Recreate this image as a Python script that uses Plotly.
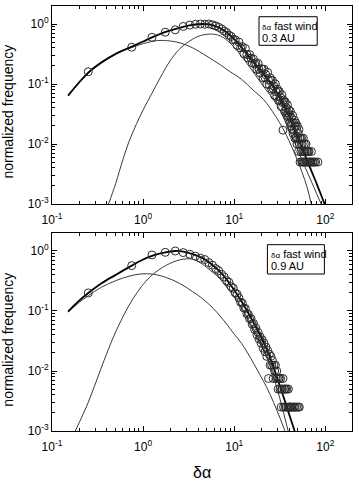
import plotly.graph_objects as go

# ---------------- data ----------------
# top panel: 0.3 AU
top_x = [0.25, 0.75, 1.25, 1.75, 2.25, 2.75, 3.25, 3.75, 4.25, 4.75,
         5.25, 5.75, 6.25, 6.75, 7.25, 7.75, 8.25, 8.75, 9.25, 9.75,
         10.25, 10.75, 11.25, 11.75, 12.25, 12.75, 13.25, 13.75, 14.25, 14.75,
         15.25, 15.75, 16.25, 16.75, 17.25, 17.75, 18.25, 18.75, 19.25, 19.75,
         20.25, 20.75, 21.25, 21.75, 22.25, 22.75, 23.25, 23.75, 24.25, 24.75,
         25.25, 25.75, 26.25, 26.75, 27.25, 27.75, 28.25, 28.75, 29.25, 29.75,
         30.25, 30.75, 31.25, 31.75, 32.25, 32.75, 33.25, 33.75, 34.25, 34.75,
         35.25, 35.75, 36.25, 36.75, 37.25, 37.75, 38.25, 38.75, 39.25, 39.75,
         40.25, 40.75, 41.25, 41.75, 42.25, 42.75, 43.25, 43.75, 44.25, 44.75,
         45.25, 45.75, 46.25, 46.75, 47.25, 47.75, 48.25, 48.75, 49.25, 49.75,
         50.25, 50.75, 51.25, 51.75, 52.25, 52.75, 53.25, 53.75, 54.25, 54.75,
         55.25, 55.75, 56.25, 56.75, 57.25, 57.75, 58.25, 58.75, 59.25, 59.75,
         60.25, 61.25, 61.75, 62.25, 63.25, 63.75, 64.75, 65.25, 66.25, 67.25,
         67.75, 69.25, 70.25, 71.75, 73.25, 75.75, 78.25, 82.75]
top_y = [0.16, 0.41, 0.60, 0.73, 0.80, 0.91, 0.96, 0.99, 1.00, 0.99,
         1.00, 0.97, 0.93, 0.88, 0.83, 0.76, 0.72, 0.65, 0.62, 0.55,
         0.545, 0.44, 0.50, 0.40, 0.42, 0.32, 0.39, 0.31, 0.27, 0.31,
         0.27, 0.225, 0.26, 0.215, 0.225, 0.175, 0.22, 0.175, 0.153, 0.18,
         0.178, 0.126, 0.176, 0.128, 0.143, 0.10, 0.156, 0.115, 0.097, 0.127,
         0.115, 0.082, 0.115, 0.084, 0.092, 0.064, 0.10, 0.074, 0.062, 0.082,
         0.075, 0.053, 0.075, 0.054, 0.06, 0.042, 0.066, 0.049, 0.017, 0.054,
         0.05, 0.035, 0.05, 0.036, 0.04, 0.03, 0.045, 0.033, 0.028, 0.037,
         0.03, 0.0225, 0.035, 0.02, 0.0275, 0.0225, 0.0175, 0.03, 0.015, 0.0225,
         0.0175, 0.025, 0.0125, 0.02, 0.0225, 0.0125, 0.0175, 0.01, 0.02, 0.0125,
         0.015, 0.0075, 0.0175, 0.01, 0.0125, 0.005, 0.0125, 0.0075, 0.01, 0.0125,
         0.005, 0.01, 0.0075, 0.005, 0.0125, 0.0075, 0.005, 0.01, 0.0075, 0.005,
         0.0075, 0.01, 0.005, 0.0075, 0.0075, 0.005, 0.0075, 0.005, 0.0075, 0.005,
         0.005, 0.005, 0.0075, 0.005, 0.005, 0.005, 0.005, 0.005]

top_fit_x = [0.15, 0.2, 0.25, 0.35, 0.5, 0.75, 1.0, 1.25, 1.6, 2.0, 2.5, 3.0, 3.5, 4.0,
             4.6, 5.2, 6.0, 7.0, 8.0, 9.0, 10, 12, 15, 18, 21, 25, 30, 35, 40, 45,
             50, 55, 60, 65, 70, 80, 90, 98]
top_fit_y = [0.064, 0.108, 0.155, 0.23, 0.32, 0.42, 0.51, 0.60, 0.70, 0.78, 0.86, 0.925,
             0.965, 0.99, 1.0, 0.99, 0.94, 0.85, 0.75, 0.65, 0.56, 0.41, 0.27, 0.195,
             0.145, 0.105, 0.068, 0.044, 0.029, 0.0186, 0.0126, 0.0088, 0.0064, 0.0047,
             0.0036, 0.0022, 0.0014, 0.001]
top_c1_x = [0.15, 0.25, 0.4, 0.6, 0.8, 1.0, 1.45, 2.0, 2.6, 3.5, 5.0, 7.0, 9.0, 12,
            16, 21, 28, 35, 45, 55, 63, 70]
top_c1_y = [0.063, 0.15, 0.255, 0.355, 0.42, 0.47, 0.53, 0.52, 0.48, 0.40, 0.29, 0.21,
            0.16, 0.12, 0.08, 0.055, 0.03, 0.017, 0.0075, 0.0035, 0.0019, 0.001]
top_c2_x = [0.417, 0.5, 0.6, 0.7, 0.85, 1.0, 1.25, 1.53, 2.0, 2.5, 3.0, 3.5, 4.0, 4.6,
            5.6, 6.5, 7.5, 8.5, 10, 12, 15, 20, 25, 30, 35, 40, 45, 50, 60, 70, 80, 90]
top_c2_y = [0.001, 0.0022, 0.0055, 0.011, 0.022, 0.037, 0.07, 0.125, 0.25, 0.38, 0.48,
            0.56, 0.62, 0.66, 0.68, 0.66, 0.60, 0.52, 0.41, 0.29, 0.185, 0.10, 0.064,
            0.043, 0.027, 0.017, 0.0113, 0.0078, 0.0041, 0.0024, 0.0015, 0.001]

# bottom panel: 0.9 AU
bot_x = [0.25, 0.75, 1.25, 1.75, 2.25, 2.75, 3.25, 3.75, 4.25, 4.75,
         5.25, 5.75, 6.25, 6.75, 7.25, 7.75, 8.25, 8.75, 9.25, 9.75,
         10.25, 10.75, 11.25, 11.75, 12.25, 12.75, 13.25, 13.75, 14.25, 14.75,
         15.25, 15.75, 16.25, 16.75, 17.25, 17.75, 18.25, 18.75, 19.25, 19.75,
         20.25, 20.75, 21.25, 21.75, 22.25, 22.75, 23.25, 23.75, 24.25, 24.75,
         25.25, 25.75, 26.25, 26.75, 27.25, 27.75, 28.25, 28.75, 29.25, 29.75,
         30.25, 30.75, 31.25, 31.75, 32.25, 32.75, 33.25, 33.75, 34.25, 34.75,
         35.25, 35.75, 36.25, 36.75, 37.25, 37.75, 38.75, 39.25, 39.75, 40.25,
         41.25, 41.75, 42.75, 44.25, 45.75, 46.25, 48.25, 50.25, 51.75]
bot_y = [0.20, 0.57, 0.86, 0.95, 1.00, 0.94, 0.88, 0.82, 0.76, 0.72,
         0.64, 0.58, 0.51, 0.47, 0.41, 0.37, 0.32, 0.30, 0.255, 0.24,
         0.20, 0.19, 0.165, 0.14, 0.135, 0.112, 0.11, 0.09, 0.088, 0.074,
         0.075, 0.06, 0.062, 0.049, 0.052, 0.04, 0.044, 0.034, 0.037, 0.029,
         0.033, 0.024, 0.029, 0.021, 0.025, 0.0175, 0.022, 0.0075, 0.019, 0.0125,
         0.0175, 0.0125, 0.015, 0.0075, 0.0125, 0.01, 0.0125, 0.0075, 0.01, 0.0075,
         0.005, 0.0075, 0.0075, 0.005, 0.0075, 0.0025, 0.005, 0.005, 0.0075, 0.0025,
         0.005, 0.005, 0.0025, 0.005, 0.0025, 0.005, 0.0025, 0.005, 0.0025, 0.0025,
         0.0025, 0.0025, 0.0025, 0.0025, 0.0025, 0.0025, 0.0025, 0.0025, 0.0025]

bot_fit_x = [0.15, 0.2, 0.25, 0.35, 0.5, 0.75, 1.0, 1.25, 1.75, 2.25, 2.75, 3.5, 4.5,
             5.5, 6.5, 7.5, 9, 10.5, 12, 14, 16, 18, 20, 23, 26, 30, 34, 40, 46]
bot_fit_y = [0.098, 0.15, 0.20, 0.29, 0.40, 0.57, 0.72, 0.83, 0.95, 1.0, 0.98, 0.89,
             0.76, 0.62, 0.50, 0.40, 0.28, 0.20, 0.145, 0.097, 0.067, 0.048, 0.035,
             0.022, 0.0135, 0.0072, 0.0041, 0.0019, 0.001]
bot_c1_x = [0.15, 0.2, 0.25, 0.35, 0.5, 0.7, 0.95, 1.3, 1.8, 2.5, 3.5, 4.5, 5.9, 7,
            8.5, 10, 12, 14, 16.5, 19, 22.5, 27, 32, 36]
bot_c1_y = [0.096, 0.14, 0.18, 0.25, 0.32, 0.38, 0.415, 0.41, 0.36, 0.29, 0.21, 0.16,
            0.11, 0.082, 0.057, 0.041, 0.029, 0.02, 0.013, 0.0088, 0.0055, 0.003,
            0.0016, 0.001]
bot_c2_x = [0.18, 0.25, 0.34, 0.5, 0.78, 1.19, 1.8, 2.5, 3.0, 3.5, 4.5, 5.5, 6.5, 7.5,
            9, 10.5, 12, 14, 16, 18, 20, 23, 26, 30, 34, 39]
bot_c2_y = [0.001, 0.003, 0.0104, 0.045, 0.163, 0.37, 0.58, 0.71, 0.74, 0.73, 0.60,
            0.47, 0.385, 0.30, 0.21, 0.155, 0.115, 0.076, 0.052, 0.037, 0.0265, 0.016,
            0.0095, 0.0047, 0.0023, 0.001]

x_tickvals = [0.1, 1, 10, 100]
x_ticktext = ["10<sup>-1</sup>", "10<sup>0</sup>", "10<sup>1</sup>", "10<sup>2</sup>"]
y_tickvals = [0.001, 0.01, 0.1, 1]
y_ticktext = ["10<sup>-3</sup>", "10<sup>-2</sup>", "10<sup>-1</sup>", "10<sup>0</sup>"]
panel_labels = ["0.3 AU", "0.9 AU"]

# ---------------- figure ----------------
FONT = "Liberation Sans, Arial, sans-serif"
fig = go.Figure()

panels = [
    (top_x, top_y, top_fit_x, top_fit_y, top_c1_x, top_c1_y, top_c2_x, top_c2_y, "x", "y"),
    (bot_x, bot_y, bot_fit_x, bot_fit_y, bot_c1_x, bot_c1_y, bot_c2_x, bot_c2_y, "x2", "y2"),
]
for (dx, dy, fx, fy, c1x, c1y, c2x, c2y, xa, ya) in panels:
    for cx, cy in [(c1x, c1y), (c2x, c2y)]:
        fig.add_trace(go.Scatter(x=cx, y=cy, mode="lines", xaxis=xa, yaxis=ya,
                                 line=dict(color="#3a3a3a", width=1, shape="spline", smoothing=1.0),
                                 hoverinfo="skip"))
    fig.add_trace(go.Scatter(x=fx, y=fy, mode="lines", xaxis=xa, yaxis=ya,
                             line=dict(color="black", width=1.8, shape="spline", smoothing=1.0),
                             hoverinfo="skip"))
    fig.add_trace(go.Scatter(x=dx, y=dy, mode="markers", xaxis=xa, yaxis=ya,
                             marker=dict(symbol="circle-open", size=8,
                                         color="#2a2a2a", line=dict(width=1, color="#2a2a2a"))))

x_minor = [d * 10 ** k for k in range(-1, 3) for d in range(2, 10) if d * 10 ** k <= 196]
y_minor = [d * 10 ** k for k in range(-3, 1) for d in range(2, 10) if d * 10 ** k <= 1.99]

def xaxis_cfg(anchor):
    return dict(type="log", range=[-1, 2.292], domain=[0, 1], anchor=anchor,
                tickmode="array", tickvals=x_tickvals, ticktext=x_ticktext,
                ticks="inside", ticklen=5, tickwidth=1, tickcolor="black",
                ticklabelstandoff=5,
                showline=True, linecolor="black", linewidth=1, mirror="ticks",
                showgrid=False, zeroline=False,
                minor=dict(tickmode="array", tickvals=x_minor, ticks="inside", ticklen=3,
                           tickwidth=1, tickcolor="black", showgrid=False),
                tickfont=dict(family=FONT, size=12, color="black"))

def yaxis_cfg(anchor, domain):
    return dict(type="log", range=[-3, 0.3], domain=domain, anchor=anchor,
                tickmode="array", tickvals=y_tickvals, ticktext=y_ticktext,
                ticks="inside", ticklen=5, tickwidth=1, tickcolor="black",
                showline=True, linecolor="black", linewidth=1, mirror="ticks",
                showgrid=False, zeroline=False,
                minor=dict(tickmode="array", tickvals=y_minor, ticks="inside", ticklen=3,
                           tickwidth=1, tickcolor="black", showgrid=False),
                tickfont=dict(family=FONT, size=12, color="black"))

fig.update_layout(
    width=359, height=484,
    margin=dict(l=52, r=7, t=6, b=53),
    paper_bgcolor="white", plot_bgcolor="white",
    showlegend=False,
    xaxis=xaxis_cfg("y"),
    yaxis=yaxis_cfg("x", [0.5341, 1]),
    xaxis2=xaxis_cfg("y2"),
    yaxis2=yaxis_cfg("x2", [0, 0.4659]),
)

annotations = [
    dict(text="normalized frequency", x=-0.148, y=0.7506, xref="paper", yref="paper",
         textangle=-90, showarrow=False, xanchor="center", yanchor="middle",
         font=dict(family=FONT, size=14, color="black")),
    dict(text="normalized frequency", x=-0.148, y=0.214, xref="paper", yref="paper",
         textangle=-90, showarrow=False, xanchor="center", yanchor="middle",
         font=dict(family=FONT, size=14, color="black")),
    dict(text="δα", x=0.5, y=-0.098, xref="paper", yref="paper", showarrow=False,
         xanchor="center", yanchor="middle", font=dict(family=FONT, size=16, color="black")),
]
shapes = []
# text boxes (paper coords)
boxes = [((0.69, 0.9075, 0.884, 0.9748), panel_labels[0]),
         ((0.718, 0.3694, 0.908, 0.4384), panel_labels[1])]
for (x0, y0, x1, y1), lab in boxes:
    shapes.append(dict(type="rect", xref="paper", yref="paper", x0=x0, y0=y0, x1=x1, y1=y1,
                       line=dict(color="black", width=1), fillcolor="rgba(0,0,0,0)"))
    h = y1 - y0
    annotations.append(dict(text="<span style='font-size:8px'>δα</span> fast wind",
                            x=x0 + 0.004, y=y1 - h * 0.32, xref="paper", yref="paper",
                            showarrow=False, xanchor="left", yanchor="middle",
                            font=dict(family=FONT, size=11, color="black")))
    annotations.append(dict(text=lab, x=x0 + 0.004, y=y1 - h * 0.74, xref="paper", yref="paper",
                            showarrow=False, xanchor="left", yanchor="middle",
                            font=dict(family=FONT, size=11, color="black")))

fig.update_layout(annotations=annotations, shapes=shapes)
fig.write_html("out.html")
